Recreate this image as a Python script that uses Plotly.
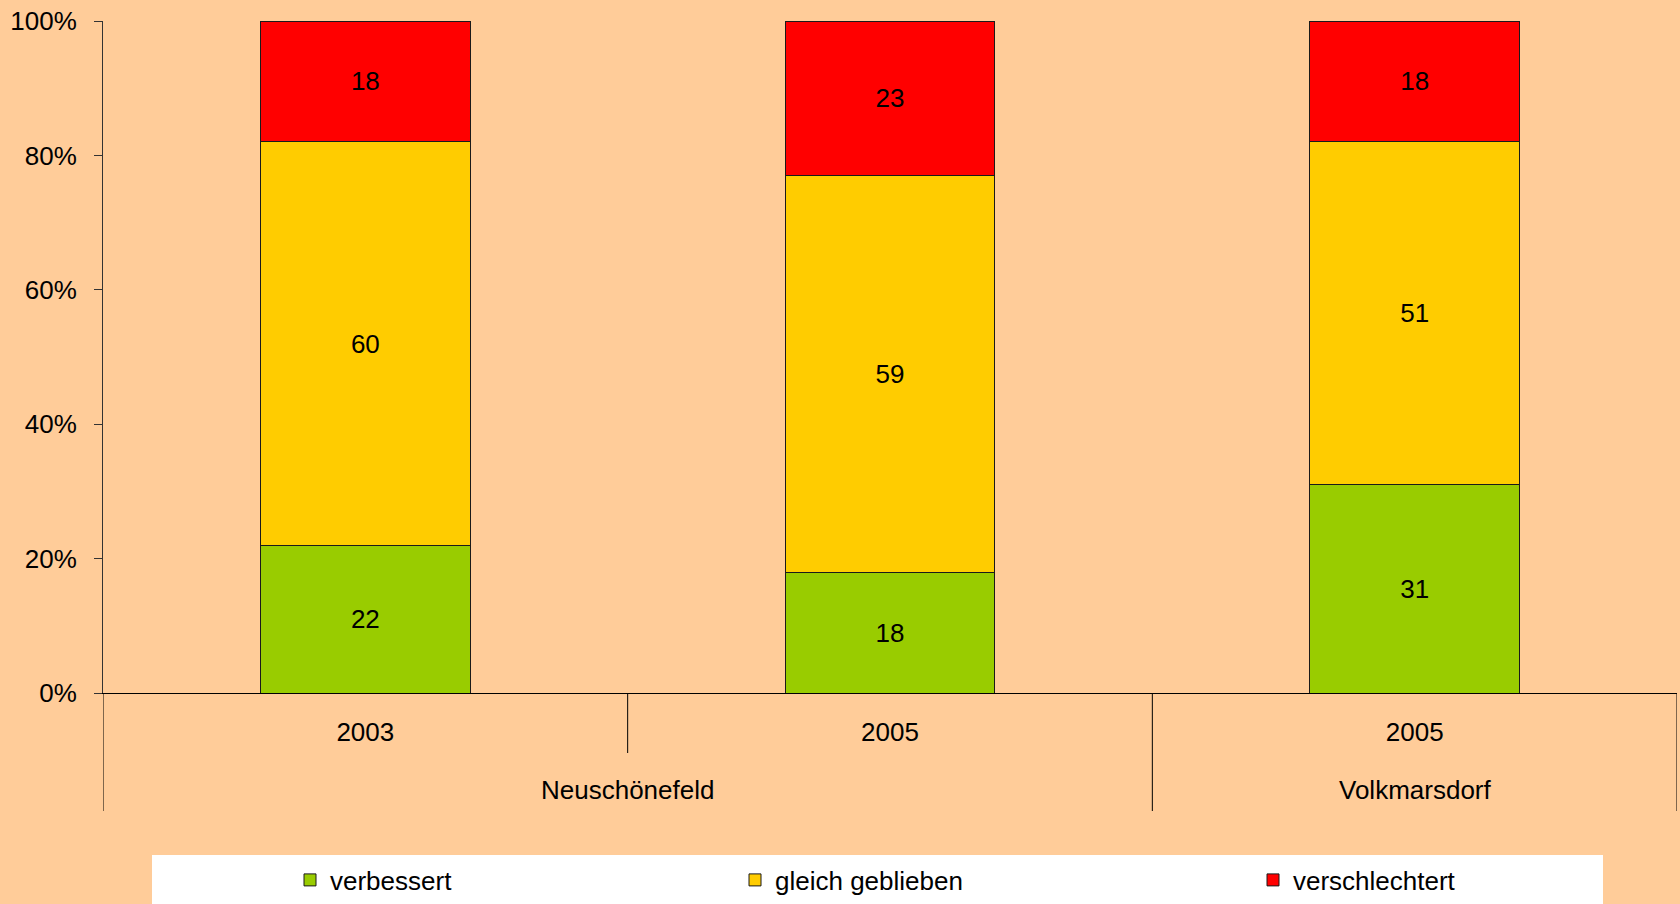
import plotly.graph_objects as go

# Stadtteil / Jahr
gruppen = ["Neuschönefeld", "Volkmarsdorf"]
jahre = ["2003", "2005", "2005"]
gruppe_je_balken = [0, 0, 1]

verbessert = [22, 18, 31]
gleich_geblieben = [60, 59, 51]
verschlechtert = [18, 23, 18]

y_ticks = [0, 20, 40, 60, 80, 100]
y_ticktext = ["0%", "20%", "40%", "60%", "80%", "100%"]

FONT = "Liberation Sans, Arial, sans-serif"
FS = 26
BG = "#FFCC99"

# plot area in pixels (for placing the legend pieces)
PX_LEFT, PX_RIGHT, PX_TOP, PX_BOTTOM = 103, 1677, 21, 693


def px_to_paper_x(px):
    return (px - PX_LEFT) / (PX_RIGHT - PX_LEFT)


def px_to_paper_y(py):
    return (PX_BOTTOM - py) / (PX_BOTTOM - PX_TOP)


x_pos = list(range(len(jahre)))

fig = go.Figure()

series = [
    ("verbessert", verbessert, "#99CC00", "legend"),
    ("gleich geblieben", gleich_geblieben, "#FFCC00", "legend2"),
    ("verschlechtert", verschlechtert, "#FF0000", "legend3"),
]
for name, vals, color, leg in series:
    fig.add_trace(go.Bar(
        x=x_pos,
        y=vals,
        name=name,
        marker=dict(color=color, line=dict(color="#1a1a1a", width=1)),
        text=[str(v) for v in vals],
        textposition="inside",
        insidetextanchor="middle",
        textangle=0,
        constraintext="none",
        textfont=dict(family=FONT, size=FS, color="black"),
        legend=leg,
        hoverinfo="skip",
    ))

legend_style = dict(
    orientation="h",
    bgcolor="rgba(0,0,0,0)",
    font=dict(family=FONT, size=FS, color="black"),
    yanchor="middle",
    y=px_to_paper_y(880),
    xanchor="left",
)

# group labels below the year labels
annotations = []
for gi, g in enumerate(gruppen):
    members = [i for i, k in enumerate(gruppe_je_balken) if k == gi]
    annotations.append(dict(
        x=(members[0] + members[-1]) / 2, xref="x",
        y=px_to_paper_y(790), yref="paper",
        text=g, showarrow=False, yanchor="middle",
        font=dict(family=FONT, size=FS, color="black"),
    ))

# dividers: short ones between years, long ones between Stadtteile and at the ends
shapes = [
    dict(
        type="rect", xref="paper", yref="paper",
        x0=px_to_paper_x(152), x1=px_to_paper_x(1603),
        y0=px_to_paper_y(910), y1=px_to_paper_y(855),
        fillcolor="white", line=dict(width=0), layer="below",
    ),
]
for b in range(len(jahre) + 1):
    x = b - 0.5
    if b == 0 or b == len(jahre) or gruppe_je_balken[b - 1] != gruppe_je_balken[b]:
        y_end = 811
    else:
        y_end = 753
    shapes.append(dict(
        type="line", xref="x", yref="paper",
        x0=x, x1=x, y0=0, y1=px_to_paper_y(y_end),
        line=dict(color="black", width=1),
    ))

fig.update_layout(
    barmode="stack",
    bargap=0.6,
    width=1680,
    height=904,
    paper_bgcolor=BG,
    plot_bgcolor=BG,
    margin=dict(l=PX_LEFT, r=1680 - PX_RIGHT, t=PX_TOP, b=904 - PX_BOTTOM,
                autoexpand=False),
    font=dict(family=FONT, size=FS, color="black"),
    showlegend=True,
    legend=dict(legend_style, x=px_to_paper_x(290)),
    legend2=dict(legend_style, x=px_to_paper_x(735)),
    legend3=dict(legend_style, x=px_to_paper_x(1253)),
    annotations=annotations,
    shapes=shapes,
    xaxis=dict(
        range=[-0.5, len(jahre) - 0.5],
        tickvals=x_pos,
        ticktext=jahre,
        showline=True,
        linecolor="black",
        linewidth=1,
        ticks="",
        ticklabelstandoff=16,
        showgrid=False,
        zeroline=False,
        tickfont=dict(family=FONT, size=FS, color="black"),
    ),
    yaxis=dict(
        range=[0, 100],
        tickvals=y_ticks,
        ticktext=y_ticktext,
        ticks="outside",
        ticklen=8,
        tickcolor="#333333",
        ticklabelstandoff=12,
        showline=True,
        linecolor="#333333",
        linewidth=1,
        showgrid=False,
        zeroline=False,
        tickfont=dict(family=FONT, size=FS, color="black"),
    ),
)

fig.write_html(
    "out.html",
    config={"displayModeBar": False},
    post_script="document.body.style.margin='0';document.body.style.background='%s';" % BG,
)
